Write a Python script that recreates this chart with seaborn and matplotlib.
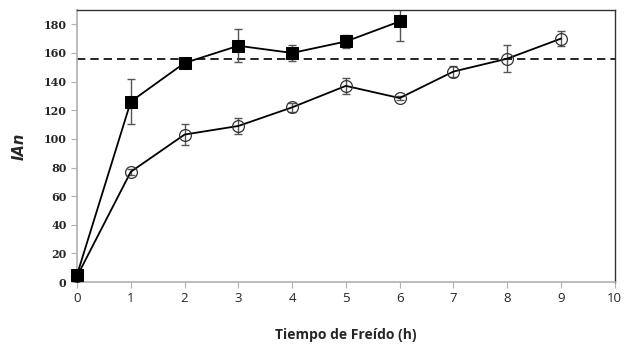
import numpy as np
import pandas as pd
import matplotlib
matplotlib.use("Agg")
import matplotlib.pyplot as plt
import seaborn as sns

# tiempo de freido (h)
t_sq = [0, 1, 2, 3, 4, 5, 6]
ian_sq = [5, 126, 153, 165, 160, 168, 182]
err_sq = [1, 15.5, 2, 11.5, 5.5, 4.5, 14]

t_ci = [0, 1, 2, 3, 4, 5, 6, 7, 8, 9]
ian_ci = [4, 77, 103, 109, 122, 137, 128.5, 147, 156, 170]
err_ci = [1, 2, 7.5, 5.5, 3, 5.5, 1.5, 4, 9.3, 5]

limite = 156

sns.set_style("white")
fig, ax = plt.subplots(figsize=(6.26, 3.44), dpi=100)
fig.subplots_adjust(left=0.123, right=0.982, top=0.971, bottom=0.18)

# dashed reference line
ax.axhline(limite, color="black", linestyle=(0, (5, 3)), linewidth=1.2, zorder=1)

# error bars (gray)
ax.errorbar(t_ci, ian_ci, yerr=err_ci, fmt="none", ecolor="#555555",
            elinewidth=1, capsize=3, capthick=1, zorder=2)
ax.errorbar(t_sq, ian_sq, yerr=err_sq, fmt="none", ecolor="#555555",
            elinewidth=1, capsize=3, capthick=1, zorder=2)

df_ci = pd.DataFrame({"t": t_ci, "ian": ian_ci})
df_sq = pd.DataFrame({"t": t_sq, "ian": ian_sq})
sns.lineplot(data=df_ci, x="t", y="ian", ax=ax, color="black", linewidth=1.3,
             marker="o", markersize=8.5, markerfacecolor="none",
             markeredgecolor="#333333", markeredgewidth=0.9, zorder=3,
             clip_on=False)
sns.lineplot(data=df_sq, x="t", y="ian", ax=ax, color="black", linewidth=1.3,
             marker="s", markersize=9, markerfacecolor="black",
             markeredgecolor="black", zorder=4, clip_on=False)

ax.set_xlim(0, 10)
ax.set_ylim(0, 190)
ax.set_xticks(range(0, 11))
ax.set_yticks(range(0, 181, 20))

for s in ["left", "bottom"]:
    ax.spines[s].set_color("#b0b0b0")
    ax.spines[s].set_linewidth(1.2)
for s in ["top", "right"]:
    ax.spines[s].set_color("#333333")
    ax.spines[s].set_linewidth(1)

ax.tick_params(axis="both", direction="out", length=4, color="#b0b0b0",
               bottom=True, left=True)
for lab in ax.get_yticklabels():
    lab.set_family("DejaVu Serif")
    lab.set_fontweight("bold")
    lab.set_fontsize(8)
for lab in ax.get_xticklabels():
    lab.set_family("Open Sans")
    lab.set_fontsize(9.5)

ax.set_xlabel("Tiempo de Freído (h)", fontsize=10, fontweight="bold",
              family="Open Sans", labelpad=16)
ax.set_ylabel("IAn", fontsize=10.5, fontweight="bold", style="italic",
              family="DejaVu Sans", labelpad=12)

fig.savefig("out.png", dpi=100)
